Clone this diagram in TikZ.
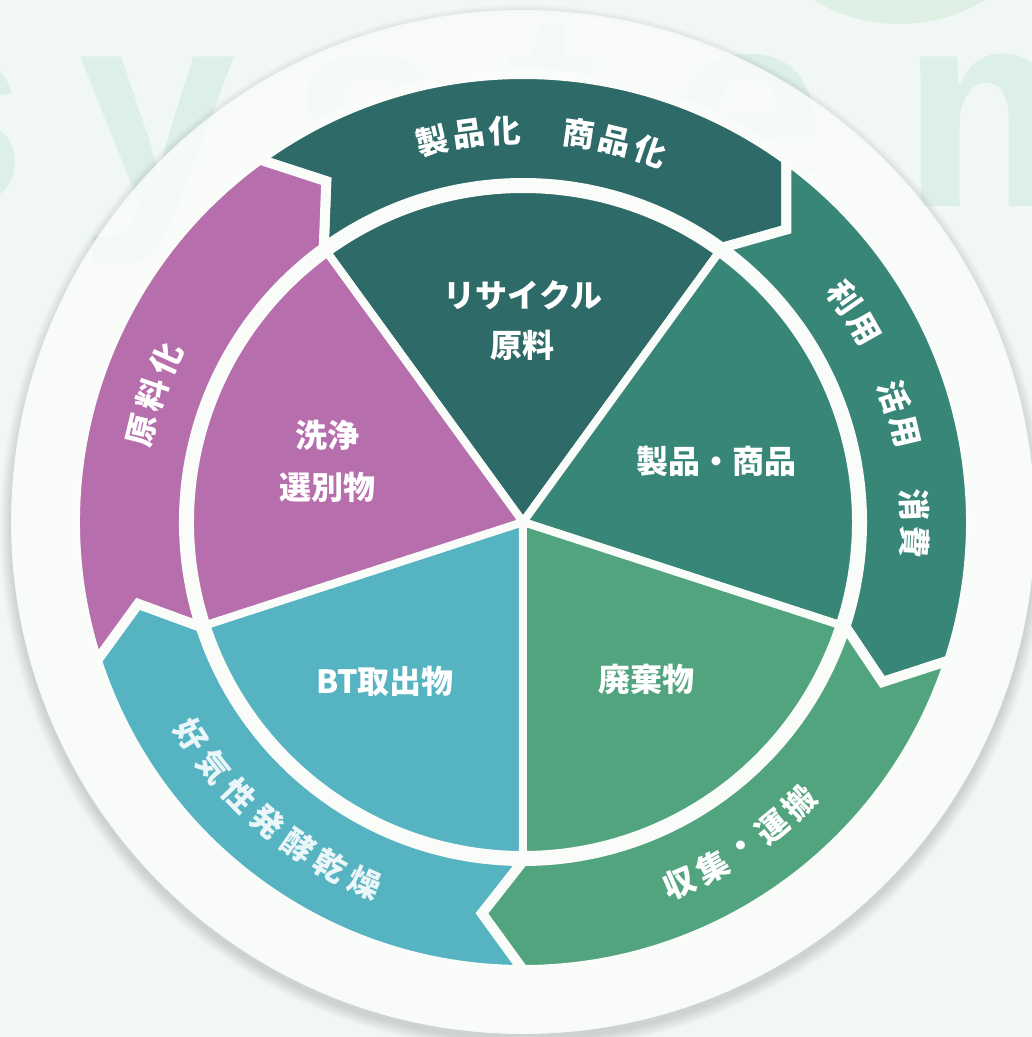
\documentclass[tikz,border=0pt]{standalone}
\usepackage{fontspec}
\newfontfamily\jp{Noto Sans CJK JP}
\newfontfamily\bgfont{Liberation Sans}
\definecolor{bgmint}{HTML}{F1F7F4}
\definecolor{bgletter}{HTML}{DCEFE8}
\definecolor{bgdot}{HTML}{DEEFE3}
\definecolor{disc}{HTML}{FAFCFA}
\definecolor{recycle}{HTML}{2E6A67}
\definecolor{product}{HTML}{388677}
\definecolor{waste}{HTML}{52A47F}
\definecolor{btout}{HTML}{55B3C2}
\definecolor{washed}{HTML}{B66FAC}
\tikzset{
  pielabel/.style={text=white, font=\jp\bfseries\fontsize{32}{50}\selectfont, align=center, inner sep=0pt},
  bandtxt/.style={text=white, font=\jp\bfseries\fontsize{32}{32}\selectfont, inner sep=0pt},
  wedge/.style={draw=disc, line width=8pt, line join=round},
  band/.style={draw=disc, line width=10pt},
}
\begin{document}
\begin{tikzpicture}[x=1pt,y=1pt]
% background and big letters
\fill[bgmint] (-523,-515) rectangle (509,522);
\useasboundingbox (-523,-515) rectangle (509,522);
\fill[bgdot] (376,662) circle (164);
\foreach \ch/\x [count=\i] in {s/-52, y/157, s/370, t/553, e/747, m/1027}
  \node[text=bgletter, font=\bgfont\bfseries\fontsize{283}{283}\selectfont, anchor=base, inner sep=0pt] (bg\i) at (\x-523,315) {\ch};
% disc with soft shadow underneath
\foreach \s in {1,...,12}
  \fill[black!60!bgmint, opacity=0.02, even odd rule] (0,-6) circle ({511+\s}) (0,0) circle (511.5);
\fill[disc, fill opacity=0.88] (0,0) circle (512);
% outer arrow band
\foreach \s/\col in {126/recycle, 54/product, -18/waste, -90/btout, 198/washed}
  \filldraw[band, fill=\col] (\s:339) -- ({\s-6}:393.5) -- (\s:448)
    arc[start angle=\s, end angle=\s-72, radius=448] -- ({\s-78}:393.5) -- ({\s-72}:339)
    arc[start angle=\s-72, end angle=\s, radius=339] -- cycle;
% pie
\foreach \s/\col in {126/recycle, 54/product, -18/waste, -90/btout, 198/washed}
  \filldraw[wedge, fill=\col] (0,0) -- (\s:333) arc[start angle=\s, end angle=\s-72, radius=333] -- cycle;
% pie labels
\node[pielabel] (lblrecycle) at (0,201) {リサイクル\\原料};
\node[pielabel] (lblproduct) at (194,61) {製品・商品};
\node[pielabel] (lblwaste) at (124,-157) {廃棄物};
\node[pielabel] (lblbtout) at (-138,-159) {BT取出物};
\node[pielabel, font=\jp\bfseries\fontsize{32}{52}\selectfont] (lblwashed) at (-195,61) {洗浄\\選別物};
% band labels, one glyph at a time
\foreach \ch [count=\i] in {製,品,化,{},商,品,化}
  \node[bandtxt, rotate={87.2+(4-\i)*5.4-90}] (top\i) at ({87.2+(4-\i)*5.4}:392) {\ch};
\foreach \ch [count=\i] in {利,用,{},活,用,{},消,費}
  \node[bandtxt, rotate={16+(4.5-\i)*5.4-90}] (right\i) at ({16+(4.5-\i)*5.4}:392) {\ch};
\foreach \ch [count=\i] in {原,料,化}
  \node[bandtxt, rotate={161+(2-\i)*5.5-90}] (left\i) at ({161+(2-\i)*5.5}:392) {\ch};
\foreach \ch [count=\i] in {好,気,性,発,酵,乾,燥}
  \node[bandtxt, text=white!88!btout, rotate={229.6+(\i-4)*5.6+90}] (dry\i) at ({229.6+(\i-4)*5.6}:394) {\ch};
\foreach \ch [count=\i] in {収,集,・,運,搬}
  \node[bandtxt, rotate={304+(\i-3)*5.3+90}] (haul\i) at ({304+(\i-3)*5.3}:394) {\ch};
\end{tikzpicture}
\end{document}
